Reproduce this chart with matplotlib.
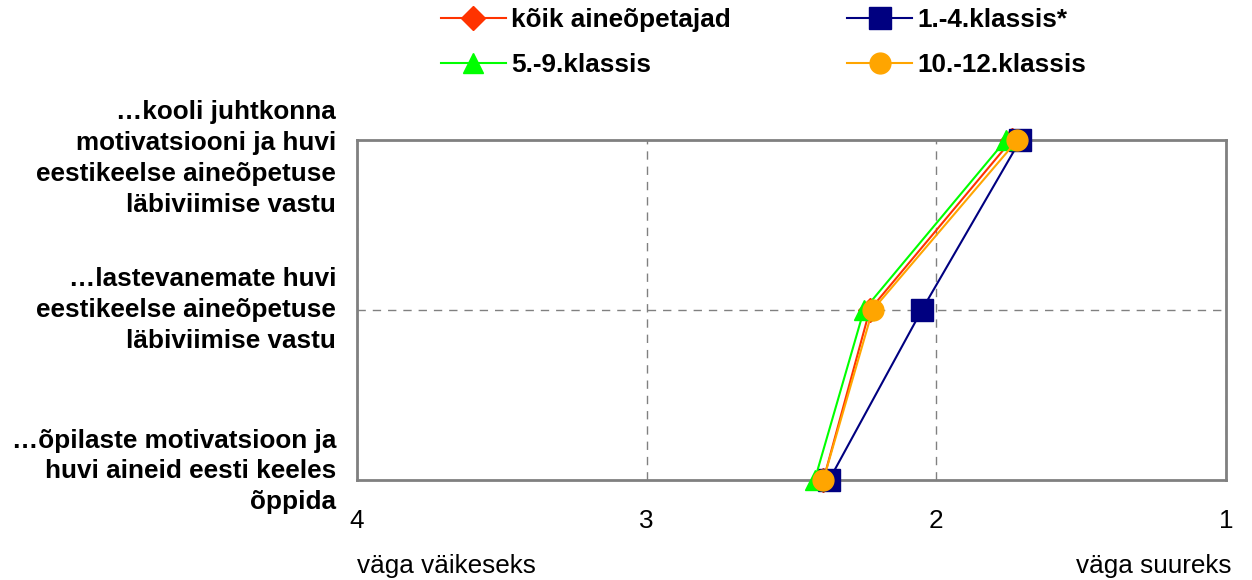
import matplotlib.pyplot as plt
import matplotlib.transforms as mtransforms

plt.rcParams['font.family'] = ['Liberation Sans', 'DejaVu Sans']

# andmed
kategooriad = ["…õpilaste motivatsioon ja\nhuvi aineid eesti keeles\nõppida",
               "…lastevanemate huvi\neestikeelse aineõpetuse\nläbiviimise vastu",
               "…kooli juhtkonna\nmotivatsiooni ja huvi\neestikeelse aineõpetuse\nläbiviimise vastu"]
koik = [2.39, 2.23, 1.74]
kl1_4 = [2.37, 2.05, 1.71]
kl5_9 = [2.42, 2.25, 1.76]
kl10_12 = [2.39, 2.22, 1.72]
x_ticks = [4, 3, 2, 1]

FS = 18.8

fig = plt.figure(figsize=(12.52, 5.8), dpi=100)
ax = fig.add_axes([357/1252, 1-480/580, (1226-357)/1252, 340/580])

y = range(len(kategooriad))
ax.plot(koik, y, color='#FF3300', marker='D', markersize=12, lw=1.5, label='kõik aineõpetajad', clip_on=False, zorder=3)
ax.plot(kl1_4, y, color='#000080', marker='s', markersize=16, lw=1.5, label='1.-4.klassis*', clip_on=False, zorder=3)
ax.plot(kl5_9, y, color='#00FF00', marker='^', markersize=15, lw=1.5, label='5.-9.klassis', clip_on=False, zorder=3)
ax.plot(kl10_12, y, color='#FFA500', marker='o', markersize=15, lw=1.5, label='10.-12.klassis', clip_on=False, zorder=3)

ax.set_xlim(4, 1)
ax.set_ylim(0, 2)
ax.set_xticks(x_ticks)
ax.set_xticklabels([str(v) for v in x_ticks], fontsize=FS)
ax.set_yticks([1])
ax.set_yticklabels([])
ax.tick_params(length=0, pad=21)
ax.grid(True, color='#808080', linestyle=(0, (6, 5)), lw=1)

for s in ax.spines.values():
    s.set_color('#808080')
    s.set_linewidth(2)

# kategooriate sildid
trans = mtransforms.blended_transform_factory(ax.transAxes, ax.transData)
nihe = [0.05, 0.0, -0.11]
for i, lab in enumerate(kategooriad):
    ax.text(-0.024, i + nihe[i], lab, transform=trans, ha='right', va='center',
            multialignment='right', fontsize=FS, fontweight='bold', linespacing=1.36)

fig.text(357/1252, 1-566/580, 'väga väikeseks', ha='left', va='center', fontsize=FS)
fig.text(1232/1252, 1-566/580, 'väga suureks', ha='right', va='center', fontsize=FS)

handles, labels = ax.get_legend_handles_labels()
order = [0, 2, 1, 3]
fig.legend([handles[i] for i in order], [labels[i] for i in order],
           loc='upper left', bbox_to_anchor=(417/1252, 1.027), ncol=2, frameon=False,
           prop={'size': FS, 'weight': 'bold'}, handlelength=2.5, handletextpad=0.2,
           columnspacing=4.45, labelspacing=0.8)

fig.savefig('out.png', dpi=100)
